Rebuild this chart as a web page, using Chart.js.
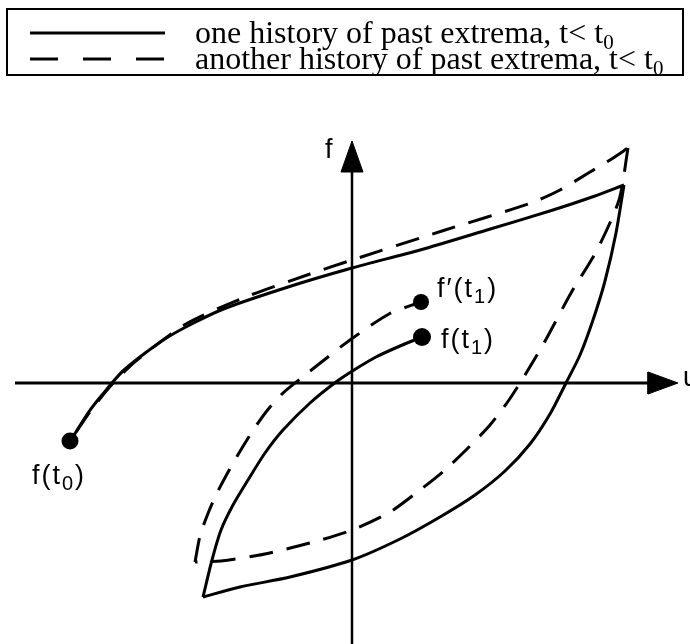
<!DOCTYPE html>
<html>
<head>
<meta charset="UTF-8">
<title>hysteresis loops</title>
<script src="https://cdn.jsdelivr.net/npm/chart.js@4.4.1/dist/chart.umd.min.js"></script>
<style>
  *{margin:0;padding:0;}
  body{background:#fff;}
  #wrap{width:690px;height:644px;}
</style>
</head>
<body>
<div id="wrap"><canvas id="loop" width="690" height="644"></canvas></div>
<script>
// branches of the two loops, points as [u, f]
var solidUpper = [[-5.62,-1.14],[-5.28,-0.60],[-5.00,-0.24],[-4.56,0.26],[-3.68,0.92],[-2.62,1.46],
  [-1.28,1.92],[0,2.30],[1.36,2.66],[2.70,3.06],[4.02,3.46],[4.86,3.74],[5.44,3.96]];
var solidLower = [[5.44,3.96],[5.28,3.00],[5.06,2.04],[4.82,1.26],[4.56,0.56],[4.28,0],[3.96,-0.62],
  [3.56,-1.22],[3.06,-1.76],[2.46,-2.24],[1.76,-2.68],[0.96,-3.12],[0,-3.54],[-1.24,-3.88],
  [-2.24,-4.08],[-2.98,-4.28]];
var solidReturn = [[-2.98,-4.28],[-2.80,-3.54],[-2.62,-2.94],[-2.38,-2.44],[-2.08,-1.94],[-1.74,-1.40],
  [-1.38,-0.94],[-0.84,-0.40],[-0.32,0.02],[0.04,0.26],[0.48,0.52],[0.96,0.74],[1.40,0.92]];

var dashUpper = [[-5.52,-0.98],[-5.14,-0.44],[-4.74,0.04],[-4.30,0.46],[-3.32,1.18],[-2.18,1.70],
  [-0.84,2.18],[0,2.46],[1.80,3.04],[3.58,3.60],[4.16,3.86],[4.76,4.22],[5.16,4.46],[5.52,4.70]];
var dashLower = [[5.52,4.70],[5.34,3.66],[4.90,2.66],[4.38,1.80],[3.84,0.80],[3.46,0.16],[3.14,-0.34],
  [2.76,-0.84],[2.34,-1.28],[1.86,-1.74],[1.36,-2.14],[0.76,-2.58],[0,-2.94],[-0.84,-3.20],
  [-1.74,-3.42],[-2.62,-3.56],[-3.14,-3.58]];
var dashReturn = [[-3.14,-3.58],[-3.04,-3.06],[-2.90,-2.66],[-2.72,-2.24],[-2.50,-1.82],[-2.26,-1.40],
  [-2.00,-0.98],[-1.72,-0.58],[-1.38,-0.20],[-1.04,0.08],[-0.66,0.38],[-0.04,0.86],[0.74,1.38],[1.38,1.62]];

// marked states f(t0), f(t1), f'(t1)
var dotU = [-5.64, 1.40, 1.38];
var dotF = [-1.16, 0.92, 1.62];
var dotText = [['f(t','0',')'], ['f(t','1',')'], ['f\u2032(t','1',')']];

// axes and arrow heads
var uAxis = [[-6.74,0],[6.06,0]];
var fAxis = [[0,-5.22],[0,4.36]];
var uArrow = [[6.52,0],[5.92,0.22],[5.92,-0.22],[6.52,0]];
var fArrow = [[0,4.84],[-0.22,4.22],[0.22,4.22],[0,4.84]];

var legendText = ['one history of past extrema, t< t', 'another history of past extrema, t< t'];
var legendSub = ['0', '0'];

function pts(arr){
  return arr.map(function(p){ return {x:p[0], y:p[1]}; });
}

function curve(arr, dashed){
  return {
    data: pts(arr), showLine: true, borderColor: '#000', borderWidth: 3,
    borderDash: dashed ? [24,14] : [], tension: 0.25, pointRadius: 0, pointHoverRadius: 0
  };
}

function arrow(arr){
  return {
    data: pts(arr), showLine: true, fill: 'shape', backgroundColor: '#000',
    borderColor: '#000', borderWidth: 1, tension: 0, pointRadius: 0
  };
}

var datasets = [
  {data: pts(uAxis), showLine: true, borderColor: '#000', borderWidth: 3, pointRadius: 0},
  {data: pts(fAxis), showLine: true, borderColor: '#000', borderWidth: 2.5, pointRadius: 0},
  arrow(uArrow),
  arrow(fArrow),
  curve(solidUpper, false),
  curve(solidLower, false),
  curve(solidReturn, false),
  curve(dashUpper, true),
  curve(dashLower, true),
  curve(dashReturn, true),
  {
    data: dotU.map(function(u, i){ return {x:u, y:dotF[i]}; }),
    pointRadius: [8.5, 9, 8], pointBackgroundColor: '#000', pointBorderWidth: 0, showLine: false
  }
];

// text with a lowered index, e.g. f(t0)
function subText(c, x, y, head, sub, tail, size, family, subSize, drop){
  c.font = size + 'px ' + family;
  c.fillText(head, x, y);
  var w = c.measureText(head).width;
  c.font = subSize + 'px ' + family;
  c.fillText(sub, x + w, y + drop);
  w += c.measureText(sub).width;
  c.font = size + 'px ' + family;
  if (tail) c.fillText(tail, x + w, y);
}

var notes = {
  id: 'notes',
  afterDraw: function(chart){
    var c = chart.ctx;
    var xs = chart.scales.x, ys = chart.scales.y;
    c.save();
    c.fillStyle = '#000';
    c.textBaseline = 'alphabetic';

    // axis names
    var sans = '"Liberation Sans", Arial, sans-serif';
    c.font = '27px ' + sans;
    c.fillText('f', xs.getPixelForValue(fArrow[0][0]) - 27, ys.getPixelForValue(fArrow[0][1]) + 17);
    c.fillText('u', xs.getPixelForValue(uArrow[0][0]) + 5, ys.getPixelForValue(uArrow[0][1]) + 3);

    // labels of the marked states
    var offs = [[-38, 43], [19, 11], [16, -5]];
    c.letterSpacing = '2px';
    dotText.forEach(function(t, i){
      var px = xs.getPixelForValue(dotU[i]) + offs[i][0];
      var py = ys.getPixelForValue(dotF[i]) + offs[i][1];
      subText(c, px, py, t[0], t[1], t[2], 27, sans, 20, 6);
    });
    c.letterSpacing = '0px';

    // legend box
    c.strokeStyle = '#000';
    c.lineWidth = 2;
    c.strokeRect(7, 9, 676, 66);
    var serif = '"Liberation Serif", "Times New Roman", serif';
    legendText.forEach(function(t, i){
      var y = 33 + i * 26;
      c.lineWidth = 3;
      c.setLineDash(i ? [28, 25] : []);
      c.beginPath();
      c.moveTo(30, y);
      c.lineTo(165, y);
      c.stroke();
      c.setLineDash([]);
      subText(c, 195, y + 10, t, legendSub[i], '', 32, serif, 21, 6);
    });
    c.restore();
  }
};

new Chart(document.getElementById('loop'), {
  type: 'scatter',
  data: {datasets: datasets},
  options: {
    responsive: false,
    animation: false,
    events: [],
    layout: {padding: 0, autoPadding: false},
    plugins: {legend: {display: false}, tooltip: {enabled: false}},
    scales: {
      x: {type: 'linear', min: -7.04, max: 6.76, display: false},
      y: {type: 'linear', min: -5.22, max: 7.66, display: false}
    }
  },
  plugins: [notes]
});
</script>
</body>
</html>
